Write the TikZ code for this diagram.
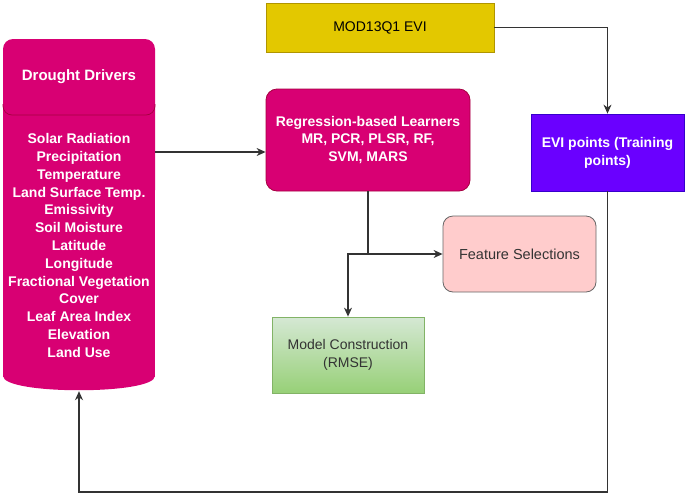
\documentclass[tikz,border=0pt]{standalone}
\usepackage{fontspec}
\setmainfont{Liberation Sans}
\usetikzlibrary{arrows.meta}
\tikzset{>={Stealth[length=9pt,width=8pt]}}

\definecolor{magfill}{HTML}{D80073}
\definecolor{magline}{HTML}{A50040}
\definecolor{yelfill}{HTML}{E3C800}
\definecolor{yelline}{HTML}{B09500}
\definecolor{purfill}{HTML}{6A00FF}
\definecolor{purline}{HTML}{3700CC}
\definecolor{pinkfill}{HTML}{FFCCCC}
\definecolor{greentop}{HTML}{D5E8D4}
\definecolor{greenbot}{HTML}{97D077}
\definecolor{greenline}{HTML}{82B366}
\definecolor{darktext}{HTML}{333333}
\newcommand{\boxfont}{\fontsize{14}{17.8}\selectfont}

\begin{document}
\begin{tikzpicture}[x=1pt, y=-1pt,
    flow/.style={->, line width=1.1pt, draw=black!80},
    card/.style={draw, line width=0.8pt, rounded corners=11pt, inner sep=0pt, align=center, font=\boxfont},
    plain/.style={draw, line width=0.8pt, inner sep=0pt, align=center, font=\boxfont}]
    \useasboundingbox (0,0) rectangle (685,496);
    % drought drivers cylinder
    \fill[magfill, rounded corners=10pt] (3,39) rectangle (155,200);
    \fill[magfill] (3,100) rectangle (155,377);
    \fill[magfill] (3,376) .. controls (3,395) and (155,395) .. (155,376) -- cycle;
    \draw[magline, line width=0.7pt, rounded corners=9pt] (3,104) -- (3,115) -- (155,115) -- (155,104);
    \node[minimum width=152pt, minimum height=352pt, inner sep=0pt] (drivers) at (79,215) {};
    \node[font=\fontsize{15}{18}\selectfont\bfseries, text=white] (drvhead) at (79,77) {Drought Drivers};
    \node[font=\boxfont\bfseries, text=white, align=center] (drvlist) at (79,245.5)
        {Solar Radiation\\Precipitation\\Temperature\\Land Surface Temp.\\Emissivity\\Soil Moisture\\Latitude\\Longitude\\Fractional Vegetation\\Cover\\Leaf Area Index\\Elevation\\Land Use};
    % boxes
    \node[plain, fill=yelfill, draw=yelline, minimum width=228pt, minimum height=49pt] (mod) at (380,27.5) {MOD13Q1 EVI};
    \node[plain, fill=purfill, draw=purline, text=white, font=\boxfont\bfseries, minimum width=153pt, minimum height=77pt] (evi) at (607.5,152.5) {EVI points (Training\\points)};
    \node[card, fill=magfill, draw=magline, text=white, font=\boxfont\bfseries, minimum width=204pt, minimum height=102pt] (reg) at (368,140) {Regression-based Learners\\MR, PCR, PLSR, RF,\\SVM, MARS};
    \node[card, rounded corners=10pt, fill=pinkfill, draw=black!60, text=darktext, font=\fontsize{14.5}{17.8}\selectfont, minimum width=153pt, minimum height=76pt] (feat) at (519.5,254) {Feature Selections};
    \node[plain, top color=greentop, bottom color=greenbot, draw=greenline, text=darktext, minimum width=152pt, minimum height=76pt] (model) at (348,355) {Model Construction\\(RMSE)};
    % connectors
    \coordinate (drvout) at (drivers.east |- 0,152);
    \draw[flow] (drvout) -- (drvout -| reg.west);
    \draw[flow] (mod.east) -| (evi.north);
    \coordinate (split) at (reg.south |- feat.west);
    \draw[flow] (reg.south) |- (feat.west);
    \draw[flow] (split) -| (model.north);
    \coordinate (loop) at (0,492);
    \draw[flow] (evi.south) -- (evi.south |- loop) -| (drivers.south);
\end{tikzpicture}
\end{document}
